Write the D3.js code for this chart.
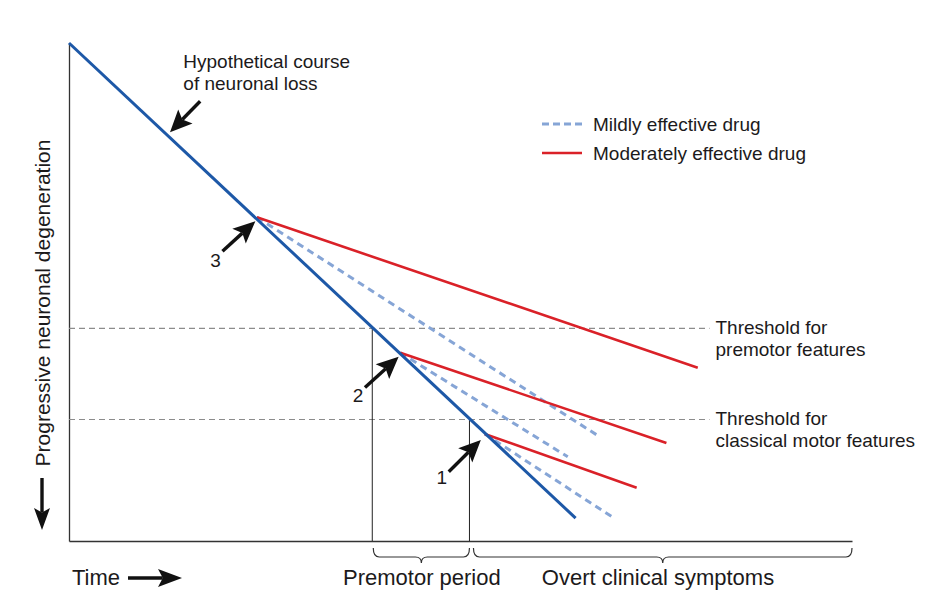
<!DOCTYPE html>
<html>
<head>
<meta charset="utf-8">
<script src="https://cdn.jsdelivr.net/npm/d3@7"></script>
<style>
  body { margin: 0; background: #fff; }
  text { font-family: "Liberation Sans", Arial, sans-serif; fill: #1c1a1b; }
</style>
</head>
<body>
<div id="chart"></div>
<script>
// values in chart units: time 0..100, neurons remaining 0..100
const neuronalLoss = [[0, 100], [64.7, 4.6]];
const startPoints = [[24.0, 65.0], [42.3, 37.8], [53.1, 21.5]];   // arrows 3, 2, 1
const moderateEnds = [[80.3, 34.8], [76.3, 19.7], [72.5, 10.7]];
const mildEnds = [[67.6, 21.1], [63.7, 16.9], [69.4, 4.8]];
const thresholds = [42.7, 24.4];
const thresholdLabels = [["Threshold for", "premotor features"], ["Threshold for", "classical motor features"]];
const thresholdEnd = 81.8;
const periodLabels = ["Premotor period", "Overt clinical symptoms"];
const legendLabels = ["Mildly effective drug", "Moderately effective drug"];
const arrowNumbers = ["3", "2", "1"];

const width = 946, height = 600;
const x = d3.scaleLinear().domain([0, 100]).range([69, 852]);
const y = d3.scaleLinear().domain([0, 100]).range([541, 43]);

const blue = "#1d58a7", red = "#da2128", light = "#86a5d6";

const svg = d3.select("#chart").append("svg")
  .attr("width", width).attr("height", height);

// axes, no ticks
svg.append("g").attr("transform", "translate(" + x(0) + ",0)")
  .call(d3.axisLeft(y).tickValues([]).tickSizeOuter(0));
svg.append("g").attr("transform", "translate(0," + y(0) + ")")
  .call(d3.axisBottom(x).tickValues([]).tickSizeOuter(0));
svg.selectAll(".domain").attr("stroke", "#333").attr("stroke-width", 1.3);

// where the course of loss crosses a threshold
function crossAt(v) {
  const [a, b] = neuronalLoss;
  return a[0] + (a[1] - v) / (a[1] - b[1]) * (b[0] - a[0]);
}
const crossings = thresholds.map(crossAt);

// thresholds
svg.selectAll(".thr").data(thresholds).enter().append("line")
  .attr("x1", x(0)).attr("x2", x(thresholdEnd))
  .attr("y1", d => y(d)).attr("y2", d => y(d))
  .attr("stroke", "#8c8c8c").attr("stroke-width", 1.2).attr("stroke-dasharray", "6,4");

svg.selectAll(".vert").data(crossings).enter().append("line")
  .attr("x1", d => x(d) - 1).attr("x2", d => x(d) - 1)
  .attr("y1", (d, i) => y(thresholds[i])).attr("y2", y(0))
  .attr("stroke", "#222").attr("stroke-width", 1);

const line = d3.line().x(d => x(d[0])).y(d => y(d[1]));

// mild drug
svg.selectAll(".mild").data(startPoints).enter().append("path")
  .attr("d", (d, i) => line([d, mildEnds[i]]))
  .attr("fill", "none").attr("stroke", light).attr("stroke-width", 3)
  .attr("stroke-dasharray", "7,5");

// moderate drug
svg.selectAll(".mod").data(startPoints).enter().append("path")
  .attr("d", (d, i) => line([d, moderateEnds[i]]))
  .attr("fill", "none").attr("stroke", red).attr("stroke-width", 2.6);

// course of neuronal loss
svg.append("path").attr("d", line(neuronalLoss))
  .attr("fill", "none").attr("stroke", blue).attr("stroke-width", 3);

// arrows
function arrow(x1, y1, x2, y2, len, half) {
  const a = Math.atan2(y2 - y1, x2 - x1);
  const bx = x2 - len * Math.cos(a), by = y2 - len * Math.sin(a);
  const nx = x2 - len * 0.8 * Math.cos(a), ny = y2 - len * 0.8 * Math.sin(a);
  svg.append("line").attr("x1", x1).attr("y1", y1).attr("x2", nx).attr("y2", ny)
    .attr("stroke", "#111").attr("stroke-width", 3.4);
  const px = -Math.sin(a) * half, py = Math.cos(a) * half;
  svg.append("path")
    .attr("d", "M" + x2 + "," + y2 + "L" + (bx + px) + "," + (by + py) +
      "L" + nx + "," + ny + "L" + (bx - px) + "," + (by - py) + "Z")
    .attr("fill", "#111");
}

const arrowTails = [[19.6, 58.2], [37.8, 30.8], [48.5, 13.9]];
const arrowHeads = [[23.8, 64.2], [42.1, 37.0], [52.6, 20.3]];
const numberPos = [[18.7, 55.0], [36.9, 28.0], [47.6, 11.5]];
arrowTails.forEach((t, i) => {
  arrow(x(t[0]), y(t[1]), x(arrowHeads[i][0]), y(arrowHeads[i][1]), 22, 10);
});
svg.selectAll(".num").data(arrowNumbers).enter().append("text")
  .attr("x", (d, i) => x(numberPos[i][0])).attr("y", (d, i) => y(numberPos[i][1]))
  .attr("text-anchor", "middle").attr("font-size", 19).text(d => d);

// hypothetical course label
arrow(x(16.75), y(88.3), x(12.9), y(82.1), 22, 10);
svg.append("text").attr("x", x(14.6)).attr("y", y(95.0)).attr("font-size", 19)
  .selectAll("tspan").data(["Hypothetical course", "of neuronal loss"]).enter().append("tspan")
  .attr("x", x(14.6)).attr("dy", (d, i) => i ? 22 : 0).text(d => d);

// threshold labels
thresholds.forEach((t, i) => {
  svg.append("text").attr("x", x(thresholdEnd) + 6).attr("y", y(t) + 6).attr("font-size", 19)
    .selectAll("tspan").data(thresholdLabels[i]).enter().append("tspan")
    .attr("x", x(thresholdEnd) + 6).attr("dy", (d, j) => j ? 22 : 0).text(d => d);
});

// legend
const legend = svg.append("g").attr("transform", "translate(542,124)");
legendLabels.forEach((lab, i) => {
  const g = legend.append("g").attr("transform", "translate(0," + i * 29 + ")");
  g.append("line").attr("x1", 0).attr("x2", 40).attr("y1", 0).attr("y2", 0)
    .attr("stroke", i ? red : light).attr("stroke-width", i ? 2.6 : 3)
    .attr("stroke-dasharray", i ? null : "7,4");
  g.append("text").attr("x", 51).attr("y", 7).attr("font-size", 19).text(lab);
});

// braces under the x axis
function brace(x0, x1) {
  const top = y(0) + 7, mid = y(0) + 16, tip = y(0) + 22, r = 6, c = (x0 + x1) / 2;
  return "M" + x0 + "," + top + "Q" + x0 + "," + mid + " " + (x0 + r) + "," + mid +
    "L" + (c - r) + "," + mid + "Q" + c + "," + mid + " " + c + "," + tip +
    "Q" + c + "," + mid + " " + (c + r) + "," + mid +
    "L" + (x1 - r) + "," + mid + "Q" + x1 + "," + mid + " " + x1 + "," + top;
}
const periods = [[crossings[0], crossings[1]], [crossings[1], 100]];
svg.selectAll(".brace").data(periods).enter().append("path")
  .attr("d", (d, i) => brace(x(d[0]) + (i ? 3 : 0), x(d[1]) - (i ? 0 : 1)))
  .attr("fill", "none").attr("stroke", "#333").attr("stroke-width", 1.2);
svg.selectAll(".period").data(periodLabels).enter().append("text")
  .attr("x", (d, i) => i ? 658 : (x(periods[0][0]) + x(periods[0][1])) / 2)
  .attr("y", 585).attr("text-anchor", "middle").attr("font-size", 22).text(d => d);

// axis titles
svg.append("text").attr("x", 72).attr("y", 585).attr("font-size", 22).text("Time");
arrow(128, 578, 182, 578, 24, 9);
svg.append("text").attr("transform", "translate(50,303) rotate(-90)")
  .attr("text-anchor", "middle").attr("font-size", 21).text("Progressive neuronal degeneration");
arrow(42, 478, 42, 530, 22, 8);
</script>
</body>
</html>
